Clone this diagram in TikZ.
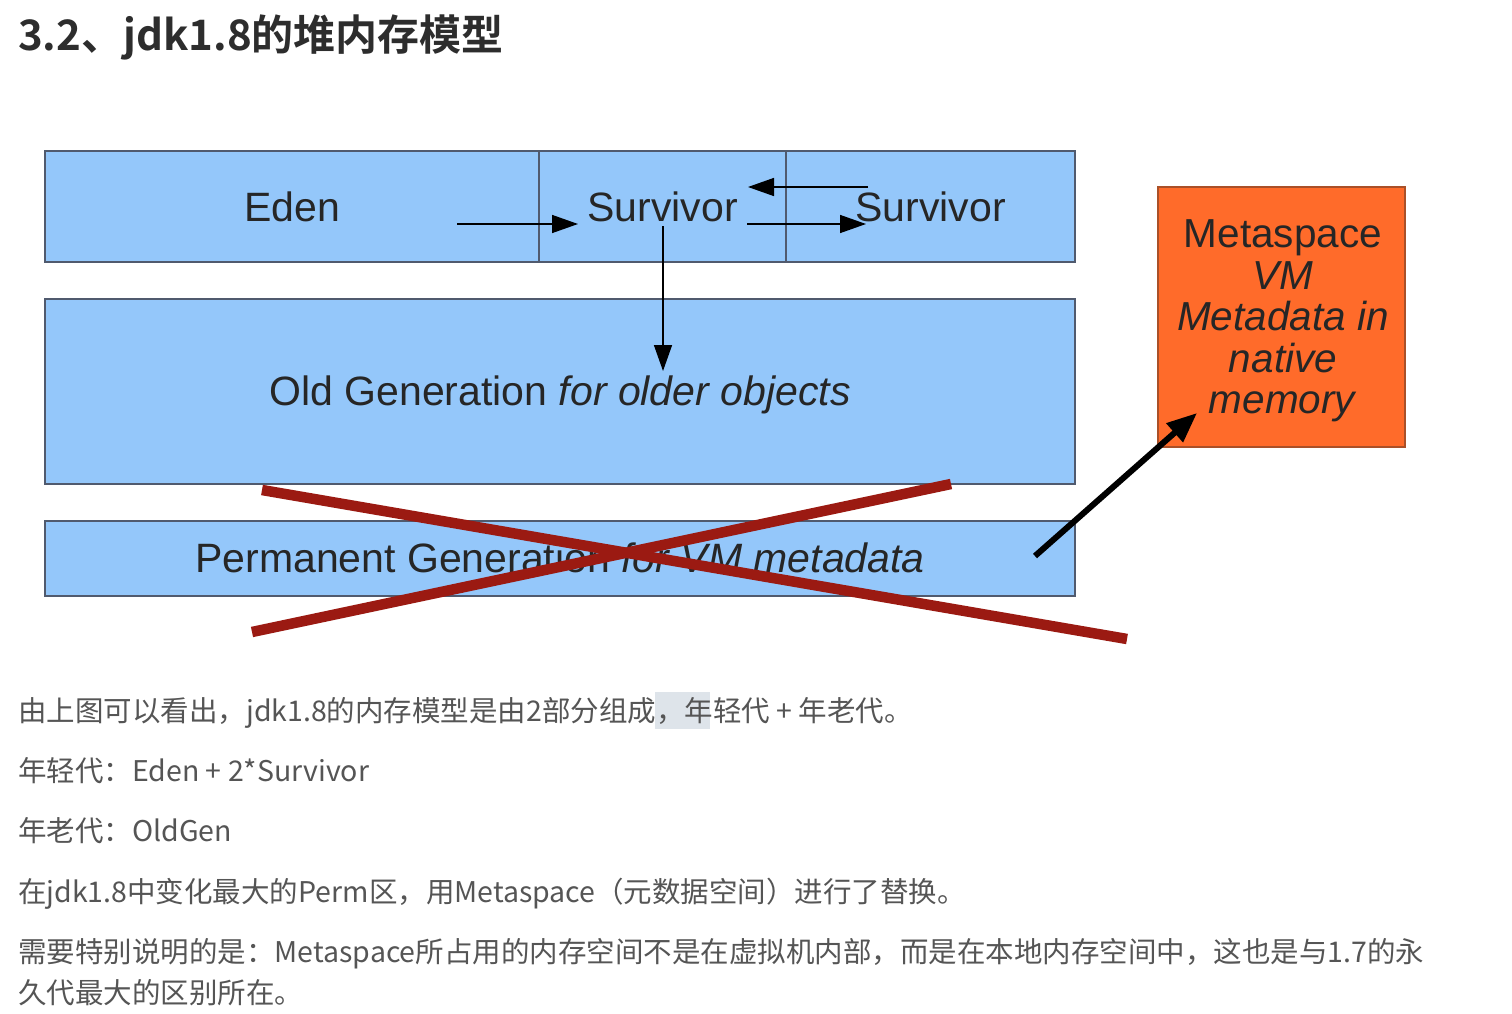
\documentclass[tikz,border=0pt]{standalone}
\usepackage{fontspec}
\setmainfont{Liberation Sans}
\newfontfamily\cjk{Noto Sans CJK SC}
\newfontfamily\cjkbold{Noto Sans CJK SC Bold}
\usetikzlibrary{arrows.meta}
\definecolor{boxfill}{RGB}{148,199,250}
\definecolor{boxline}{RGB}{80,90,110}
\definecolor{metafill}{RGB}{255,107,42}
\definecolor{metaline}{RGB}{170,80,40}
\definecolor{crossred}{RGB}{155,26,18}
\definecolor{bodygray}{RGB}{85,85,85}
\definecolor{titlegray}{RGB}{45,45,45}
\definecolor{selbg}{RGB}{222,228,234}
\begin{document}
\begin{tikzpicture}[x=1pt,y=-1pt,
  membox/.style={draw=boxline, fill=boxfill, line width=1.5pt, inner sep=0pt,
     font=\fontsize{41}{42}\selectfont, text=black!85},
  metabox/.style={draw=metaline, fill=metafill, line width=1.5pt, inner sep=0pt},
  metalabel/.style={inner sep=0pt, align=center, font=\fontsize{40.5}{41.5}\selectfont, text=black!85},
  thinarrow/.style={line width=1.5pt, -{Triangle[length=26pt,width=18pt]}},
  bigarrow/.style={line width=6pt, -{Triangle[length=30pt,width=24pt]}},
  crossline/.style={line width=10.5pt, crossred},
  bodytext/.style={anchor=base west, inner sep=0pt, text=bodygray, font=\cjk\fontsize{28.5}{28.5}\selectfont},
  titletext/.style={anchor=base west, inner sep=0pt, text=titlegray, font=\cjkbold\fontsize{42}{42}\selectfont}
]
\useasboundingbox[fill=white] (0,0) rectangle (1512,1014);

% title
\node[titletext] (title) at (18,51) {3.2、jdk1.8的堆内存模型};

% young generation
\node[membox, minimum width=494pt, minimum height=111pt] (eden) at (292,206.5) {Eden};
\node[membox, minimum width=247pt, minimum height=111pt] (surv1) at (662.5,206.5) {Survivor};
\node[membox, minimum width=289pt, minimum height=111pt] (surv2) at (930.5,206.5) {Survivor};

% old generation
\node[membox, minimum width=1030pt, minimum height=185pt, text height=30pt, text depth=3pt] (old) at (560,391.5) {Old Generation \textit{for older objects}};

% permanent generation
\node[membox, minimum width=1030pt, minimum height=75pt, text height=30pt, text depth=3pt] (perm) at (560,558.5) {Permanent Generation \textit{for VM metadata}};

% metaspace
\node[metabox, minimum width=247pt, minimum height=260pt] (meta) at (1281.5,317) {};
\node[metalabel] (metatext) at (1283,321)
  {Metaspace\\\textit{VM}\\\textit{Metadata in}\\\textit{native}\\\textit{memory}};

% arrows in young generation
\coordinate (a1s) at (457,224);
\coordinate (a1e) at (578,224);
\coordinate (a2s) at (747,224);
\coordinate (a2e) at (866,224);
\coordinate (a3s) at (868,187);
\coordinate (a3e) at (748,187);
\coordinate (a4s) at (663,226);
\coordinate (a4e) at (663,371);
\draw[thinarrow] (a1s) -- (a1e);
\draw[thinarrow] (a2s) -- (a2e);
\draw[thinarrow] (a3s) -- (a3e);
\draw[thinarrow] (a4s) -- (a4e);

% red cross
\coordinate (x1a) at (262,490);
\coordinate (x1b) at (1127,639);
\coordinate (x2a) at (252,632);
\coordinate (x2b) at (951,484);
\draw[crossline] (x1a) -- (x1b);
\draw[crossline] (x2a) -- (x2b);

% arrow to metaspace
\coordinate (m1) at (1035,556);
\coordinate (m2) at (1197,413);
\draw[bigarrow] (m1) -- (m2);

% body text
\fill[selbg] (655,692) rectangle (710,729);
\node[bodytext] (t1) at (18,721) {由上图可以看出，jdk1.8的内存模型是由2部分组成，年轻代 + 年老代。};
\node[bodytext] (t2) at (18,781) {年轻代：Eden + 2*Survivor};
\node[bodytext] (t3) at (18,841) {年老代：OldGen};
\node[bodytext] (t4) at (18,902) {在jdk1.8中变化最大的Perm区，用Metaspace（元数据空间）进行了替换。};
\node[bodytext] (t5) at (18,962) {需要特别说明的是：Metaspace所占用的内存空间不是在虚拟机内部，而是在本地内存空间中，这也是与1.7的永};
\node[bodytext] (t6) at (18,1003) {久代最大的区别所在。};
\end{tikzpicture}
\end{document}
